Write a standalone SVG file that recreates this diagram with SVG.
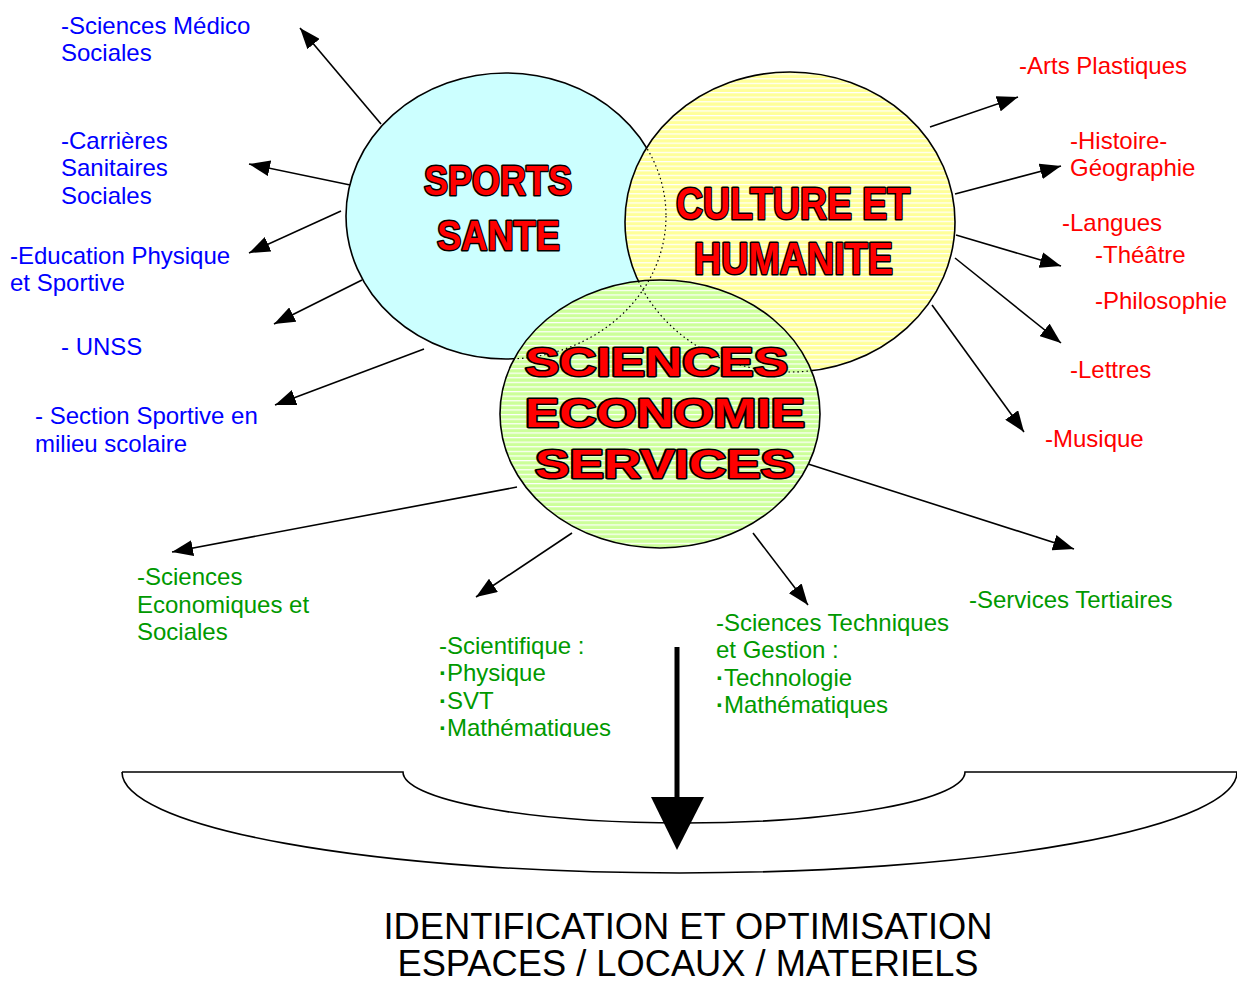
<svg xmlns="http://www.w3.org/2000/svg" width="1237" height="983" viewBox="0 0 1237 983">
<style>
.lbl{font-family:"Liberation Sans",Arial,sans-serif;font-size:24px}
.blue{fill:#0000FF}
.red{fill:#FF0000}
.grn{fill:#009900}
.bul{font-weight:bold}
.big{font-family:"Liberation Sans",Arial,sans-serif;font-weight:bold;fill:#FF0000;stroke:#000;stroke-width:3;paint-order:stroke;stroke-linejoin:round}
.con{stroke:#000;stroke-width:1.6;fill:none;marker-end:url(#ah)}
.out{stroke:#000;stroke-width:1.6}
.dot{fill:none;stroke:#000;stroke-width:1.2;stroke-dasharray:1.5 3}
.bottom{font-family:"Liberation Sans",Arial,sans-serif;font-size:36px;fill:#000}
</style>
<defs>
<marker id="ah" markerUnits="userSpaceOnUse" markerWidth="22" markerHeight="16" refX="21" refY="8" orient="auto">
<path d="M0,0 L21,8 L0,16 z" fill="#000"/>
</marker>
<pattern id="pY" patternUnits="userSpaceOnUse" width="10" height="4.6">
<rect width="10" height="4.6" fill="#FFFF99"/>
<rect y="0" width="10" height="1.2" fill="#FFFFFF"/>
</pattern>
<pattern id="pG" patternUnits="userSpaceOnUse" width="10" height="4.6">
<rect width="10" height="4.6" fill="#CCFF99"/>
<rect y="0" width="10" height="1.2" fill="#FFFFFF"/>
</pattern>
<clipPath id="cYG">
<ellipse cx="790" cy="222" rx="165" ry="150"/>
<ellipse cx="660" cy="414" rx="160" ry="134"/>
</clipPath>
<clipPath id="cG">
<ellipse cx="660" cy="414" rx="160" ry="134"/>
</clipPath>
<clipPath id="cTxt">
<rect x="400" y="600" width="300" height="137"/>
</clipPath>
</defs>

<g id="connectors">
<line class="con" x1="381" y1="124" x2="300" y2="28"/>
<line class="con" x1="355" y1="186" x2="249" y2="164"/>
<line class="con" x1="341" y1="211" x2="249" y2="253"/>
<line class="con" x1="362" y1="280" x2="274" y2="324"/>
<line class="con" x1="424" y1="349" x2="275" y2="405"/>
<line class="con" x1="930" y1="127" x2="1018" y2="97"/>
<line class="con" x1="955" y1="194" x2="1061" y2="166"/>
<line class="con" x1="956" y1="235" x2="1061" y2="266"/>
<line class="con" x1="955" y1="258" x2="1061" y2="343"/>
<line class="con" x1="932" y1="305" x2="1024" y2="432"/>
<line class="con" x1="517" y1="487" x2="172" y2="552"/>
<line class="con" x1="572" y1="533" x2="476" y2="597"/>
<line class="con" x1="753" y1="533" x2="808" y2="605"/>
<line class="con" x1="805" y1="463" x2="1074" y2="549"/>
<line x1="677" y1="647" x2="677" y2="805" stroke="#000" stroke-width="5"/>
<path d="M651,797 L704,797 L677,850 z" fill="#000"/>
</g>

<g id="node-sports">
<ellipse cx="506" cy="216" rx="160" ry="143" fill="#CCFFFF" class="out"/>
</g>
<g id="node-culture">
<ellipse cx="790" cy="222" rx="165" ry="150" fill="url(#pY)" class="out"/>
</g>
<g id="node-sciences">
<ellipse cx="660" cy="414" rx="160" ry="134" fill="url(#pG)" class="out"/>
</g>
<g id="hidden-edges">
<ellipse cx="506" cy="216" rx="160" ry="143" class="dot" clip-path="url(#cYG)"/>
<ellipse cx="790" cy="222" rx="165" ry="150" class="dot" clip-path="url(#cG)"/>
</g>
<g id="titles">
<text class="big" x="424" y="195" font-size="42" textLength="148" lengthAdjust="spacingAndGlyphs">SPORTS</text>
<text class="big" x="437" y="250" font-size="42" textLength="123" lengthAdjust="spacingAndGlyphs">SANTE</text>
<text class="big" x="676" y="219" font-size="44" textLength="234" lengthAdjust="spacingAndGlyphs">CULTURE ET</text>
<text class="big" x="694" y="274" font-size="44" textLength="199" lengthAdjust="spacingAndGlyphs">HUMANITE</text>
<text class="big" x="525" y="376" font-size="40" textLength="263" lengthAdjust="spacingAndGlyphs">SCIENCES</text>
<text class="big" x="525" y="427" font-size="40" textLength="280" lengthAdjust="spacingAndGlyphs">ECONOMIE</text>
<text class="big" x="535" y="478" font-size="40" textLength="260" lengthAdjust="spacingAndGlyphs">SERVICES</text>
</g>

<g id="labels-sante" class="lbl blue">
<text x="61" y="34">-Sciences Médico</text>
<text x="61" y="61">Sociales</text>
<text x="61" y="149">-Carrières</text>
<text x="61" y="176">Sanitaires</text>
<text x="61" y="204">Sociales</text>
<text x="10" y="264">-Education Physique</text>
<text x="10" y="291">et Sportive</text>
<text x="61" y="355">- UNSS</text>
<text x="35" y="424">- Section Sportive en</text>
<text x="35" y="452">milieu scolaire</text>
</g>

<g id="labels-culture" class="lbl red">
<text x="1019" y="74">-Arts Plastiques</text>
<text x="1070" y="149">-Histoire-</text>
<text x="1070" y="176">Géographie</text>
<text x="1062" y="231">-Langues</text>
<text x="1095" y="263">-Théâtre</text>
<text x="1095" y="309">-Philosophie</text>
<text x="1070" y="378">-Lettres</text>
<text x="1045" y="447">-Musique</text>
</g>

<g id="labels-sciences" class="lbl grn">
<text x="137" y="585">-Sciences</text>
<text x="137" y="613">Economiques et</text>
<text x="137" y="640">Sociales</text>
<g clip-path="url(#cTxt)">
<text x="439" y="654">-Scientifique :</text>
<text x="439" y="681"><tspan class="bul">·</tspan>Physique</text>
<text x="439" y="709"><tspan class="bul">·</tspan>SVT</text>
<text x="439" y="736"><tspan class="bul">·</tspan>Mathématiques</text>
</g>
<text x="716" y="631">-Sciences Techniques</text>
<text x="716" y="658">et Gestion :</text>
<text x="716" y="686"><tspan class="bul">·</tspan>Technologie</text>
<text x="716" y="713"><tspan class="bul">·</tspan>Mathématiques</text>
<text x="969" y="608">-Services Tertiaires</text>
</g>

<g id="node-bowl">
<path d="M122,772 L403,772 A281,51 0 0 0 965,772 L1237,772" fill="none" class="out"/>
<path d="M122,772 A557.5,101 0 0 0 1237,772" fill="none" class="out"/>
</g>

<g id="node-result">
<text class="bottom" x="688" y="939" text-anchor="middle" textLength="609" lengthAdjust="spacingAndGlyphs">IDENTIFICATION ET OPTIMISATION</text>
<text class="bottom" x="688" y="976" text-anchor="middle" textLength="581" lengthAdjust="spacingAndGlyphs">ESPACES / LOCAUX / MATERIELS</text>
</g>
</svg>
